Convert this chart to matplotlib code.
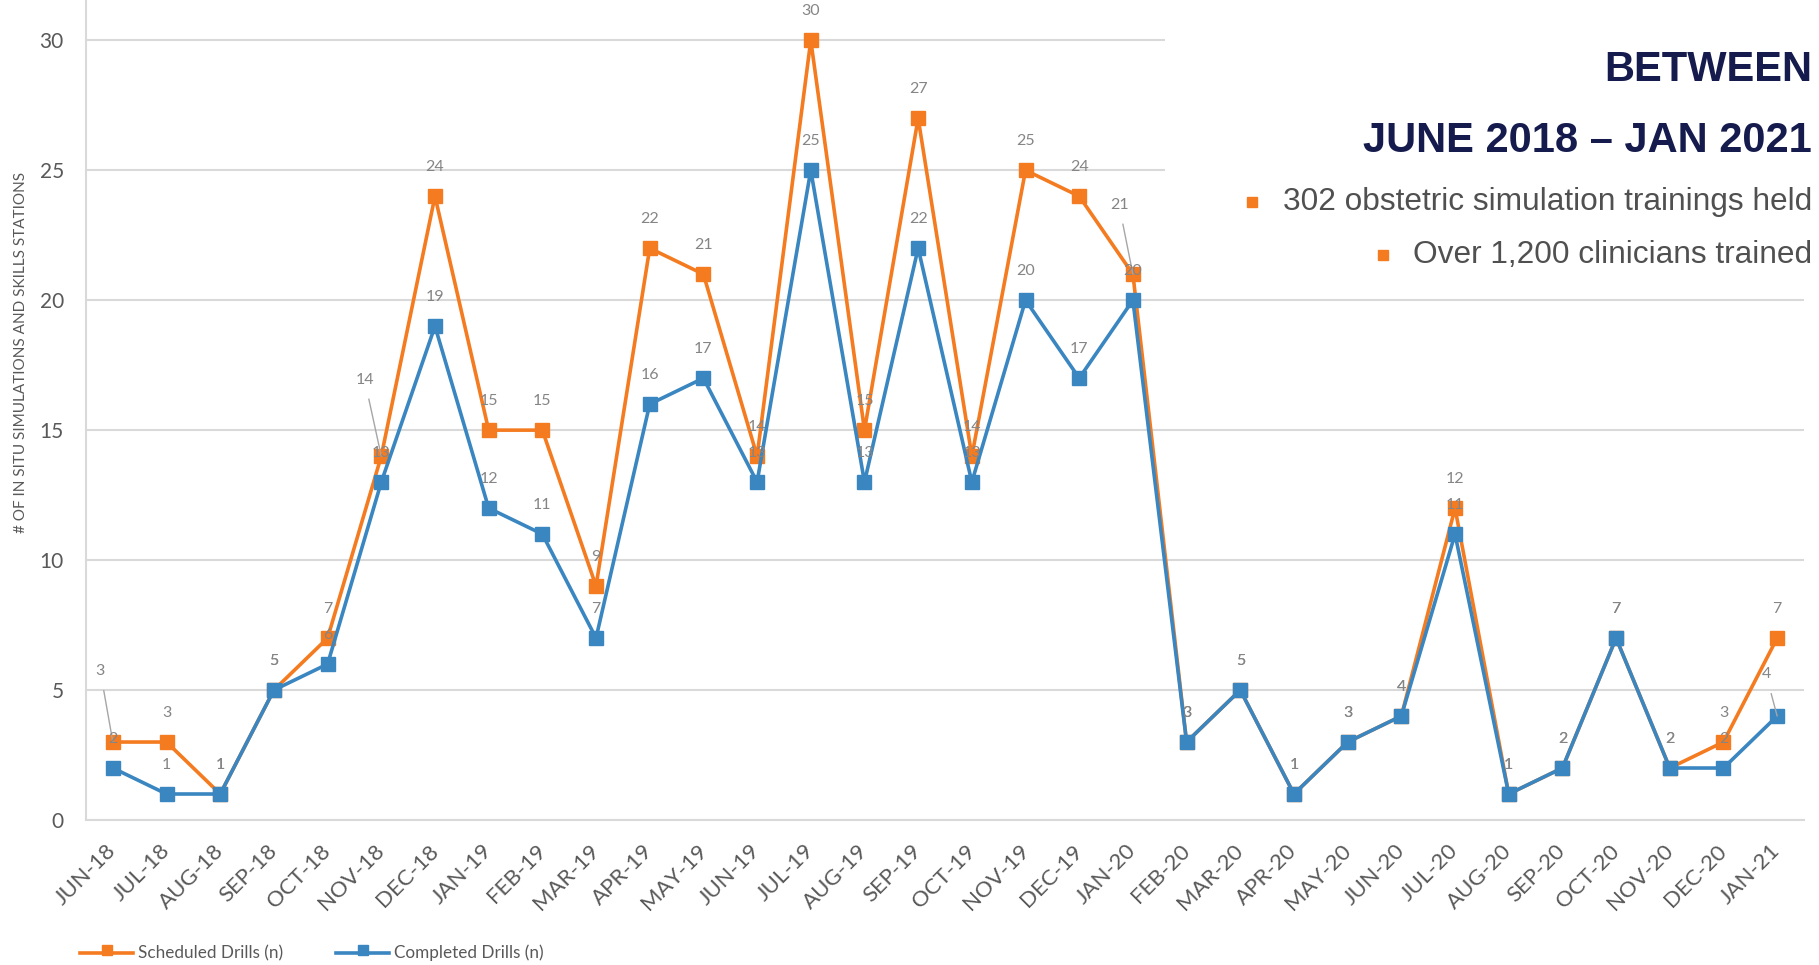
import matplotlib
matplotlib.use("Agg")
import matplotlib.pyplot as plt
from matplotlib.patches import Rectangle
from matplotlib.lines import Line2D

months = ["JUN-18", "JUL-18", "AUG-18", "SEP-18", "OCT-18", "NOV-18", "DEC-18",
          "JAN-19", "FEB-19", "MAR-19", "APR-19", "MAY-19", "JUN-19", "JUL-19",
          "AUG-19", "SEP-19", "OCT-19", "NOV-19", "DEC-19", "JAN-20", "FEB-20",
          "MAR-20", "APR-20", "MAY-20", "JUN-20", "JUL-20", "AUG-20", "SEP-20",
          "OCT-20", "NOV-20", "DEC-20", "JAN-21"]
scheduled = [3, 3, 1, 5, 7, 14, 24, 15, 15, 9, 22, 21, 14, 30, 15, 27, 14, 25, 24, 21,
             3, 5, 1, 3, 4, 12, 1, 2, 7, 2, 3, 7]
completed = [2, 1, 1, 5, 6, 13, 19, 12, 11, 7, 16, 17, 13, 25, 13, 22, 13, 20, 17, 20,
             3, 5, 1, 3, 4, 11, 1, 2, 7, 2, 2, 4]
series_names = ["Scheduled Drills (n)", "Completed Drills (n)"]
yticks = [0, 5, 10, 15, 20, 25, 30]
ylabel = "# OF IN SITU SIMULATIONS AND SKILLS STATIONS"
title1 = "BETWEEN"
title2 = "JUNE 2018 \u2013 JAN 2021"
bullets = ["302 obstetric simulation trainings held", "Over 1,200 clinicians trained"]

ORANGE = "#F47B20"
BLUE = "#3A86C1"
GRID = "#D9D9D9"
LBL = "#858585"
AX = "#595959"
NAVY = "#161B4D"

plt.rcParams['font.family'] = ['Lato', 'DejaVu Sans']

fig = plt.figure(figsize=(18.19, 9.65), dpi=100)
ax = fig.add_axes([86/1819, 1-820/965, (1804-86)/1819, 820/965])

x = list(range(len(months)))
ax.plot(x, scheduled, color=ORANGE, lw=2.6, marker='s', ms=10.5, zorder=3,
        solid_joinstyle='miter')
ax.plot(x, completed, color=BLUE, lw=2.6, marker='s', ms=10.5, zorder=4,
        solid_joinstyle='miter')

ax.set_xlim(-0.5, len(months) - 0.5)
ax.set_ylim(0, 31.55)
ax.set_yticks(yticks)
ax.set_yticklabels([str(v) for v in yticks], fontsize=15, color=AX)
ax.set_xticks(x)
ax.set_xticklabels(months, rotation=45, ha='right', va='center', rotation_mode='anchor',
                   fontsize=16, color=AX)
ax.tick_params(axis='both', length=0)
ax.tick_params(axis='x', pad=20)
ax.tick_params(axis='y', pad=16)
ax.grid(axis='y', color=GRID, lw=1.5, zorder=0)
ax.set_axisbelow(True)
for s in ['top', 'right']:
    ax.spines[s].set_visible(False)
for s in ['left', 'bottom']:
    ax.spines[s].set_color(GRID)
    ax.spines[s].set_linewidth(1.5)
fig.text(21/1819, 1-352/965, ylabel, rotation=90, ha='center', va='center',
         fontsize=11, color=AX)

# data labels (offsets in points); some labels were moved with leader lines
leader = {(0, 0): (-9, -51), (0, 5): (-12, -55), (0, 19): (-10, -50), (1, 31): (-8, -30)}
for si, vals in enumerate([scheduled, completed]):
    for i, v in enumerate(vals):
        if (si, i) in leader:
            dx, dy = leader[(si, i)]
            ax.annotate(str(v), xy=(i, v), xytext=(dx, -dy), textcoords='offset points',
                        ha='center', va='center', fontsize=11.5, color=LBL, zorder=6,
                        arrowprops=dict(arrowstyle='-', color='#A6A6A6', lw=1,
                                        shrinkA=7, shrinkB=0))
        else:
            ax.annotate(str(v), xy=(i, v), xytext=(0, 21), textcoords='offset points',
                        ha='center', va='center', fontsize=11.5, color=LBL, zorder=6)

# legend-like entries at the bottom
ly = 1 - 953/965
fig.add_artist(Line2D([80/1819, 133/1819], [ly]*2, color=ORANGE, lw=2.6))
fig.add_artist(Line2D([106.5/1819], [1-950/965], color=ORANGE, marker='s', ms=7, lw=0))
fig.text(138/1819, ly, series_names[0], fontsize=12.3, color=AX, va='center')
fig.add_artist(Line2D([336/1819, 389/1819], [ly]*2, color=BLUE, lw=2.6))
fig.add_artist(Line2D([362.5/1819], [1-950/965], color=BLUE, marker='s', ms=7, lw=0))
fig.text(394/1819, ly, series_names[1], fontsize=12.3, color=AX, va='center')

# text box in the upper right
fig.add_artist(Rectangle((1165/1819, 1-285/965), 1-1165/1819, 285/965,
                         transform=fig.transFigure, facecolor='white', edgecolor='none',
                         zorder=5))
tf = ['Liberation Sans', 'DejaVu Sans']
fig.text(1812/1819, 1-70/965, title1, ha='right', va='center', fontsize=30,
         fontweight='bold', color=NAVY, family=tf, zorder=6)
fig.text(1812/1819, 1-141/965, title2, ha='right', va='center', fontsize=30,
         fontweight='bold', color=NAVY, family=tf, zorder=6)
fig.text(1812/1819, 1-202/965, bullets[0], ha='right', va='center', fontsize=22.8,
         color='#505050', family=tf, zorder=6)
fig.text(1812/1819, 1-255/965, bullets[1], ha='right', va='center', fontsize=22.8,
         color='#505050', family=tf, zorder=6)
fig.add_artist(Line2D([1252/1819], [1-202/965], color=ORANGE, marker='s', ms=6.5, lw=0, zorder=6))
fig.add_artist(Line2D([1383/1819], [1-255/965], color=ORANGE, marker='s', ms=6.5, lw=0, zorder=6))

fig.savefig("out.png", dpi=100)
